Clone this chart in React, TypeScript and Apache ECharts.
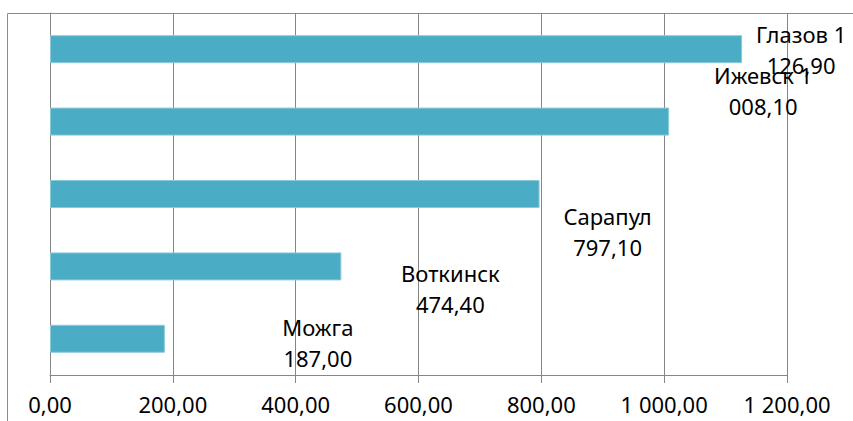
import React, { useEffect, useRef } from "react";
import * as echarts from "echarts";

const categories = ["Можга", "Воткинск", "Сарапул", "Ижевск", "Глазов"];
const values = [187.0, 474.4, 797.1, 1008.1, 1126.9];
const axisMin = 0;
const axisMax = 1200;
const axisStep = 200;

function fmt(v: number): string {
  const [i, d] = v.toFixed(2).split(".");
  const withSpaces = i.replace(/\B(?=(\d{3})+(?!\d))/g, " ");
  return `${withSpaces},${d}`;
}

export default function App() {
  const ref = useRef<HTMLDivElement>(null);
  useEffect(() => {
    if (!ref.current) return;
    const chart = echarts.init(ref.current, null, { renderer: "svg" });
    const labelOffsets: [number, number][] = [
      [153, 4],
      [109, 22],
      [68, 37],
      [94, -31],
      [59, 0],
    ];
    const font = "'Noto Sans', 'DejaVu Sans', sans-serif";
    chart.setOption({
      animation: false,
      backgroundColor: "#ffffff",
      grid: { left: 50, right: 66, top: 13, bottom: 46, containLabel: false },
      graphic: [
        {
          type: "rect",
          shape: { x: 7.5, y: 13.5, width: 900, height: 500 },
          style: { fill: "none", stroke: "#8c8c8c", lineWidth: 1 },
          silent: true,
          z: 0,
        },
      ],
      xAxis: {
        type: "value",
        min: axisMin,
        max: axisMax,
        interval: axisStep,
        axisLine: { show: true, lineStyle: { color: "#868686", width: 1 } },
        axisTick: { show: true, length: 8, lineStyle: { color: "#868686" } },
        splitLine: { show: true, lineStyle: { color: "#868686", width: 1 } },
        axisLabel: {
          formatter: (v: number) => fmt(v),
          color: "#000",
          fontSize: 22,
          fontFamily: font,
          margin: 18,
        },
      },
      yAxis: {
        type: "category",
        data: categories,
        axisLine: { show: true, lineStyle: { color: "#868686", width: 1 } },
        axisTick: { show: false },
        axisLabel: { show: false },
        splitLine: { show: false },
      },
      series: [
        {
          type: "bar",
          barWidth: 28,
          itemStyle: { color: "#4BACC6", borderColor: "#8ccadb", borderWidth: 1 },
          data: values.map((v, i) => ({
            value: v,
            label: {
              show: true,
              position: "right",
              distance: 0,
              align: "center",
              verticalAlign: "middle",
              offset: labelOffsets[i],
            },
          })),
          label: {
            show: true,
            color: "#000",
            fontSize: 22,
            lineHeight: 31,
            fontFamily: font,
            formatter: (p: any) => {
              const parts = fmt(p.value).split(" ");
              if (parts.length > 1) {
                return `${p.name} ${parts[0]}\n${parts.slice(1).join(" ")}`;
              }
              return `${p.name}\n${parts[0]}`;
            },
          },
        },
      ],
    });
    return () => chart.dispose();
  }, []);
  return (
    <div
      ref={ref}
      style={{ position: "fixed", left: 0, top: 0, width: 853, height: 421 }}
    />
  );
}
